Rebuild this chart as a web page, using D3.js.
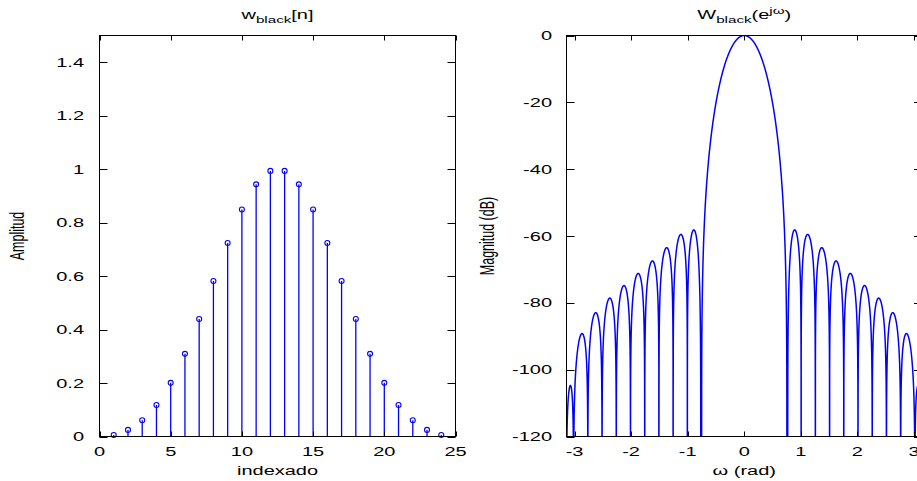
<!DOCTYPE html>
<html>
<head>
<meta charset="utf-8">
<script src="https://cdn.jsdelivr.net/npm/d3@7"></script>
<style>
  html, body { margin: 0; padding: 0; background: #fff; }
  svg { display: block; }
  text { font-family: "Liberation Sans", Arial, sans-serif; fill: #000; }
</style>
</head>
<body>
<div id="chart"></div>
<script>
// DATA
const nIndex = [1, 2, 3, 4, 5, 6, 7, 8, 9, 10, 11, 12, 13, 14, 15, 16, 17, 18, 19, 20, 21, 22, 23, 24];
const wValues = [0.0058129, 0.0247127, 0.0605389, 0.1180243, 0.2007701, 0.3092355, 0.4393086, 0.5818958,
                 0.7237215, 0.8492299, 0.9432058, 0.9935441, 0.9935441, 0.9432058, 0.8492299, 0.7237215,
                 0.5818958, 0.4393086, 0.3092355, 0.2007701, 0.1180243, 0.0605389, 0.0247127, 0.0058129];
const xTicksLeft = [0, 5, 10, 15, 20, 25];
const yTicksLeft = [0, 0.2, 0.4, 0.6, 0.8, 1, 1.2, 1.4];
const xTicksRight = [-3, -2, -1, 0, 1, 2, 3];
const yTicksRight = [0, -20, -40, -60, -80, -100, -120];

// CONFIGURATION
const width = 917, height = 481;
const blue = '#0000ff';
const fontSize = 12.5;
const stretch = 1.6;     // l'original est étiré horizontalement
const tickLenX = 5;      // ticks des axes x (verticaux)
const tickLenY = 8;      // ticks des axes y (horizontaux, étirés)

const L = {x0: 99.5, x1: 455.5, y0: 35.5, y1: 436.5};
const R = {x0: 566.5, x1: 922, y0: 35.5, y1: 436.5};   // bord droit hors image

const svg = d3.select("#chart").append("svg")
    .attr("width", width)
    .attr("height", height);

// SCALES
const xL = d3.scaleLinear().domain([0, 25]).range([L.x0, L.x1]);
const yL = d3.scaleLinear().domain([0, 1.5]).range([L.y1, L.y0]);
const xR = d3.scaleLinear().domain([-Math.PI, Math.PI]).range([R.x0, R.x1]);
const yR = d3.scaleLinear().domain([-120, 0]).range([R.y1, R.y0]);

// Spectre calculé depuis les valeurs de la fenêtre (DTFT)
const center = d3.mean(nIndex);
const amp = om => d3.sum(wValues, (v, k) => v * Math.cos(om * (nIndex[k] - center)));
const a0 = amp(0);
const toDb = a => Math.max(20 * Math.log10(Math.abs(a) / a0), -300);
const nFreq = 4096;
const spectrum = [];
let prev = null;
for (let i = 0; i <= nFreq; i++) {
    const om = -Math.PI + 2 * Math.PI * i / nFreq;
    const a = amp(om);
    if (prev && prev.a * a < 0) {
        // passage par zéro -> point nul
        const z = prev.om - prev.a * (om - prev.om) / (a - prev.a);
        spectrum.push({om: z, db: -300});
    }
    spectrum.push({om: om, db: toDb(a)});
    prev = {om, a};
}

// HELPERS
function label(g, x, y, txt, anchor, rot) {
    return g.append("text")
        .attr("transform", `translate(${x},${y}) scale(${stretch},1)` + (rot ? ` rotate(${rot})` : ''))
        .attr("text-anchor", anchor || "middle")
        .style("font-size", fontSize + "px")
        .text(txt);
}

function frame(box, xScale, yScale, xTicks, yTicks, fmt, labelGap) {
    const g = svg.append("g");
    // ticks bas / haut
    xTicks.forEach(t => {
        const x = Math.round(xScale(t)) + 0.5;
        g.append("line").attr("x1", x).attr("x2", x).attr("y1", box.y1).attr("y2", box.y1 - tickLenX);
        g.append("line").attr("x1", x).attr("x2", x).attr("y1", box.y0).attr("y2", box.y0 + tickLenX);
        label(g, xScale(t), box.y1 + 19.5, fmt(t));
    });
    // ticks gauche / droite
    yTicks.forEach(t => {
        const y = Math.round(yScale(t)) + 0.5;
        g.append("line").attr("x1", box.x0).attr("x2", box.x0 + tickLenY).attr("y1", y).attr("y2", y);
        g.append("line").attr("x1", box.x1).attr("x2", box.x1 - tickLenY).attr("y1", y).attr("y2", y);
        label(g, box.x0 - labelGap, yScale(t) + 4.5, fmt(t), "end");
    });
    g.selectAll("line").attr("stroke", "#000").attr("stroke-width", 1);
    g.append("rect")
        .attr("x", box.x0).attr("y", box.y0)
        .attr("width", box.x1 - box.x0).attr("height", box.y1 - box.y0)
        .attr("fill", "none").attr("stroke", "#000").attr("stroke-width", 1);
    return g;
}

// ****************** GAUCHE : w[n] ******************
const gL = svg.append("g");
gL.selectAll("line.stem")
    .data(wValues)
    .join("line")
    .attr("class", "stem")
    .attr("x1", (d, k) => xL(nIndex[k]))
    .attr("x2", (d, k) => xL(nIndex[k]))
    .attr("y1", yL(0))
    .attr("y2", d => yL(d))
    .attr("stroke", blue)
    .attr("stroke-width", 1.3);

gL.selectAll("circle")
    .data(wValues)
    .join("circle")
    .attr("cx", (d, k) => xL(nIndex[k]))
    .attr("cy", d => yL(d))
    .attr("r", 2.5)
    .attr("fill", "none")
    .attr("stroke", blue)
    .attr("stroke-width", 1.1);

frame(L, xL, yL, xTicksLeft, yTicksLeft, d => String(d), 15.5);

// ****************** DROITE : |W(e^jw)| ******************
svg.append("clipPath").attr("id", "clipR")
    .append("rect")
    .attr("x", R.x0).attr("y", R.y0)
    .attr("width", R.x1 - R.x0).attr("height", R.y1 - R.y0);

const line = d3.line()
    .x(d => xR(d.om))
    .y(d => yR(d.db));

svg.append("path")
    .datum(spectrum)
    .attr("clip-path", "url(#clipR)")
    .attr("d", line)
    .attr("fill", "none")
    .attr("stroke", blue)
    .attr("stroke-width", 1.5);

frame(R, xR, yR, xTicksRight, yTicksRight, d => String(d), 14.5);

// ****************** TITRES / LABELS ******************
const tL = svg.append("text")
    .attr("transform", `translate(${(L.x0 + L.x1) / 2},19) scale(${stretch},1)`)
    .attr("text-anchor", "middle")
    .style("font-size", fontSize + "px");
tL.append("tspan").text("w");
tL.append("tspan").attr("dy", 4).style("font-size", "9.5px").text("black");
tL.append("tspan").attr("dy", -4).text("[n]");

const tR = svg.append("text")
    .attr("transform", `translate(${xR(0)},18.5) scale(${stretch},1)`)
    .attr("text-anchor", "middle")
    .style("font-size", fontSize + "px");
tR.append("tspan").text("W");
tR.append("tspan").attr("dy", 4).style("font-size", "9.5px").text("black");
tR.append("tspan").attr("dy", -4).text("(e");
tR.append("tspan").attr("dy", -5).style("font-size", "9.5px").text("jω");
tR.append("tspan").attr("dy", 5).text(")");

label(svg, (L.x0 + L.x1) / 2, 475, "indexado");
label(svg, xR(0), 475, "ω (rad)");
label(svg, 24, (L.y0 + L.y1) / 2, "Amplitud", "middle", -90);
label(svg, 494, (R.y0 + R.y1) / 2, "Magnitud (dB)", "middle", -90);
</script>
</body>
</html>
